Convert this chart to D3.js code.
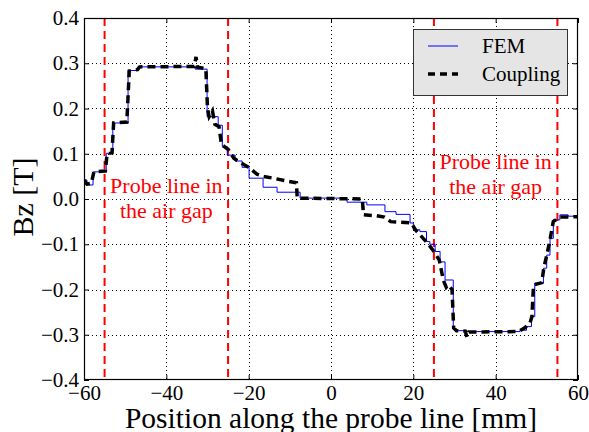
<!DOCTYPE html>
<html><head><meta charset="utf-8">
<script src="https://cdn.jsdelivr.net/npm/d3@7"></script>
<style>body{margin:0;background:#fff} svg{display:block}</style>
</head><body>
<svg id="c" width="589" height="432"></svg>
<script>
// ---- data ----
const femPos = [-60, -59.3, -57.8, -54.6, -53.0, -49.3, -46.9, -33.0, -30.1, -27.4, -26.4, -25.2, -23.3, -21.6, -19.9, -16.5, -13.1, -7.5, 3.9, 8.7, 13.1, 15.8, 19.2, 20.0, 21.6, 23.2, 24.0, 25.3, 26.5, 27.7, 29.7, 30.1, 33.0, 45.9, 47.5, 48.7, 49.5, 51.6, 52.4, 53.2, 54.0, 55.6, 57.6, 60];
const femBz  = [0.042, 0.031, 0.060, 0.101, 0.168, 0.284, 0.292, 0.287, 0.182, 0.163, 0.116, 0.097, 0.084, 0.070, 0.046, 0.026, 0.015, 0.002, -0.007, -0.013, -0.028, -0.034, -0.053, -0.068, -0.072, -0.094, -0.100, -0.116, -0.139, -0.179, -0.285, -0.291, -0.293, -0.290, -0.282, -0.260, -0.186, -0.153, -0.124, -0.087, -0.046, -0.035, -0.038, -0.038];

const couplingPos = [-60, -59.3, -58.2, -57.6, -54.8, -54.4, -53.2, -52.8, -49.6, -49.0, -47.0, -46.5, -33.2, -32.8, -32.4, -30.4, -30.0, -29.6, -28.8, -28.2, -27.2, -26.6, -25.0, -23.6, -22.8, -21.0, -20.0, -18.0, -16.5, -14.0, -11.0, -8.4, -8.2, 7.6, 7.9, 11.0, 13.0, 14.5, 19.5, 20.5, 22.0, 23.5, 25.0, 26.3, 27.3, 28.0, 28.5, 29.4, 29.8, 30.5, 32.6, 33.0, 33.5, 45.5, 47.0, 48.3, 48.8, 49.2, 51.2, 51.7, 52.4, 53.2, 54.0, 55.6, 60];
const couplingBz  = [0.042, 0.033, 0.035, 0.060, 0.062, 0.100, 0.102, 0.168, 0.170, 0.283, 0.286, 0.292, 0.293, 0.314, 0.291, 0.288, 0.200, 0.182, 0.195, 0.165, 0.160, 0.120, 0.110, 0.090, 0.085, 0.075, 0.070, 0.055, 0.050, 0.046, 0.040, 0.036, 0.002, 0.000, -0.035, -0.037, -0.040, -0.050, -0.053, -0.068, -0.083, -0.098, -0.116, -0.135, -0.180, -0.195, -0.190, -0.200, -0.285, -0.291, -0.292, -0.305, -0.294, -0.293, -0.285, -0.275, -0.260, -0.190, -0.185, -0.152, -0.125, -0.090, -0.050, -0.040, -0.039];

const xTicks = [-60, -40, -20, 0, 20, 40, 60];
const yTicks = [-0.4, -0.3, -0.2, -0.1, 0.0, 0.1, 0.2, 0.3, 0.4];
const probeLines = [-55, -25, 25, 55];
const noteCenters = [-40, 40];
const noteTopBz = [0.0135, 0.066];
const noteLines = ["Probe line in", "the air gap"];
const seriesNames = ["FEM", "Coupling"];

// ---- layout ----
const L = 84, R = 578, T = 18, B = 380;
const svg = d3.select("#c");
const x = d3.scaleLinear().domain([-60, 60]).range([L, R]);
const y = d3.scaleLinear().domain([-0.4, 0.4]).range([B, T]);
const serif = "'Liberation Serif','Times New Roman',Times,serif";
const fmtY = v => (v < 0 ? "\u2212" : "") + Math.abs(v).toFixed(1);
const fmtX = v => (v < 0 ? "\u2212" : "") + Math.abs(v);

svg.append("clipPath").attr("id", "clip").append("rect")
  .attr("x", L).attr("y", T).attr("width", R - L).attr("height", B - T);

// grid
const grid = svg.append("g").attr("stroke", "#000").attr("stroke-width", 1).attr("stroke-dasharray", "1,3");
grid.selectAll(".gx").data(xTicks.slice(1, -1)).join("line")
  .attr("x1", d => Math.round(x(d)) + 0.5).attr("x2", d => Math.round(x(d)) + 0.5)
  .attr("y1", T).attr("y2", B);
grid.selectAll(".gy").data(yTicks.slice(1, -1)).join("line")
  .attr("y1", d => Math.round(y(d)) + 0.5).attr("y2", d => Math.round(y(d)) + 0.5)
  .attr("x1", L).attr("x2", R);

// probe lines
svg.append("g").selectAll("line").data(probeLines).join("line")
  .attr("x1", d => x(d)).attr("x2", d => x(d)).attr("y1", T).attr("y2", B)
  .attr("stroke", "#ff0000").attr("stroke-width", 2).attr("stroke-dasharray", "8,5");

// series
const femData = femPos.map((p, i) => [p, femBz[i]]);
const coupData = couplingPos.map((p, i) => [p, couplingBz[i]]);
const plot = svg.append("g").attr("clip-path", "url(#clip)");
plot.append("path").datum(femData)
  .attr("d", d3.line().x(d => x(d[0])).y(d => y(d[1])).curve(d3.curveStepAfter))
  .attr("fill", "none").attr("stroke", "#0000ff").attr("stroke-width", 1);
plot.append("path").datum(coupData)
  .attr("d", d3.line().x(d => x(d[0])).y(d => y(d[1])))
  .attr("fill", "none").attr("stroke", "#000").attr("stroke-width", 3.5)
  .attr("stroke-dasharray", "8,5");

// annotations
noteCenters.forEach((c, i) => {
  const t = svg.append("text").attr("x", x(c)).attr("y", y(noteTopBz[i]))
    .attr("text-anchor", "middle").attr("fill", "#ff0000")
    .attr("font-family", serif).attr("font-size", 22);
  noteLines.forEach((s, j) => t.append("tspan").attr("x", x(c)).attr("dy", j === 0 ? 0 : 25).text(s));
});

// axes (ticks inward on all sides)
const tickLen = 5;
const axB = d3.axisBottom(x).tickValues(xTicks).tickSizeInner(-tickLen).tickSizeOuter(0).tickPadding(5).tickFormat(fmtX);
const axL = d3.axisLeft(y).tickValues(yTicks).tickSizeInner(-tickLen).tickSizeOuter(0).tickPadding(5).tickFormat(fmtY);
const axT = d3.axisTop(x).tickValues(xTicks).tickSizeInner(-tickLen).tickSizeOuter(0).tickFormat("");
const axR = d3.axisRight(y).tickValues(yTicks).tickSizeInner(-tickLen).tickSizeOuter(0).tickFormat("");
function style(g) {
  g.select(".domain").remove();
  g.selectAll("line").attr("stroke", "#000");
  g.selectAll("text").attr("font-family", serif).attr("font-size", 21).attr("fill", "#000");
}
svg.append("g").attr("transform", `translate(0,${B})`).call(axB).call(style);
svg.append("g").attr("transform", `translate(${L},0)`).call(axL).call(style);
svg.append("g").attr("transform", `translate(0,${T})`).call(axT).call(style);
svg.append("g").attr("transform", `translate(${R},0)`).call(axR).call(style);

// frame
svg.append("rect").attr("x", L + 0.5).attr("y", T + 0.5).attr("width", R - L - 1).attr("height", B - T - 1)
  .attr("fill", "none").attr("stroke", "#000").attr("stroke-width", 1.2);

// axis labels
svg.append("text").attr("x", (L + R) / 2).attr("y", 428).attr("text-anchor", "middle")
  .attr("font-family", serif).attr("font-size", 29.5).text("Position along the probe line [mm]");
svg.append("text").attr("transform", `translate(33,197) rotate(-90)`).attr("text-anchor", "middle")
  .attr("font-family", serif).attr("font-size", 30).text("Bz [T]");

// legend
const lg = svg.append("g");
lg.append("rect").attr("x", 413.5).attr("y", 29.5).attr("width", 154).attr("height", 66)
  .attr("fill", "#e5e5e5").attr("stroke", "#333").attr("stroke-width", 1);
const lgY = [46, 74];
lg.append("line").attr("x1", 428).attr("x2", 458).attr("y1", lgY[0]).attr("y2", lgY[0])
  .attr("stroke", "#0000ff").attr("stroke-width", 1);
lg.append("line").attr("x1", 428).attr("x2", 458).attr("y1", lgY[1]).attr("y2", lgY[1])
  .attr("stroke", "#000").attr("stroke-width", 3.5).attr("stroke-dasharray", "7,5");
seriesNames.forEach((s, i) => lg.append("text").attr("x", 482).attr("y", lgY[i] + 7)
  .attr("font-family", serif).attr("font-size", 21).text(s));
</script>
</body></html>
